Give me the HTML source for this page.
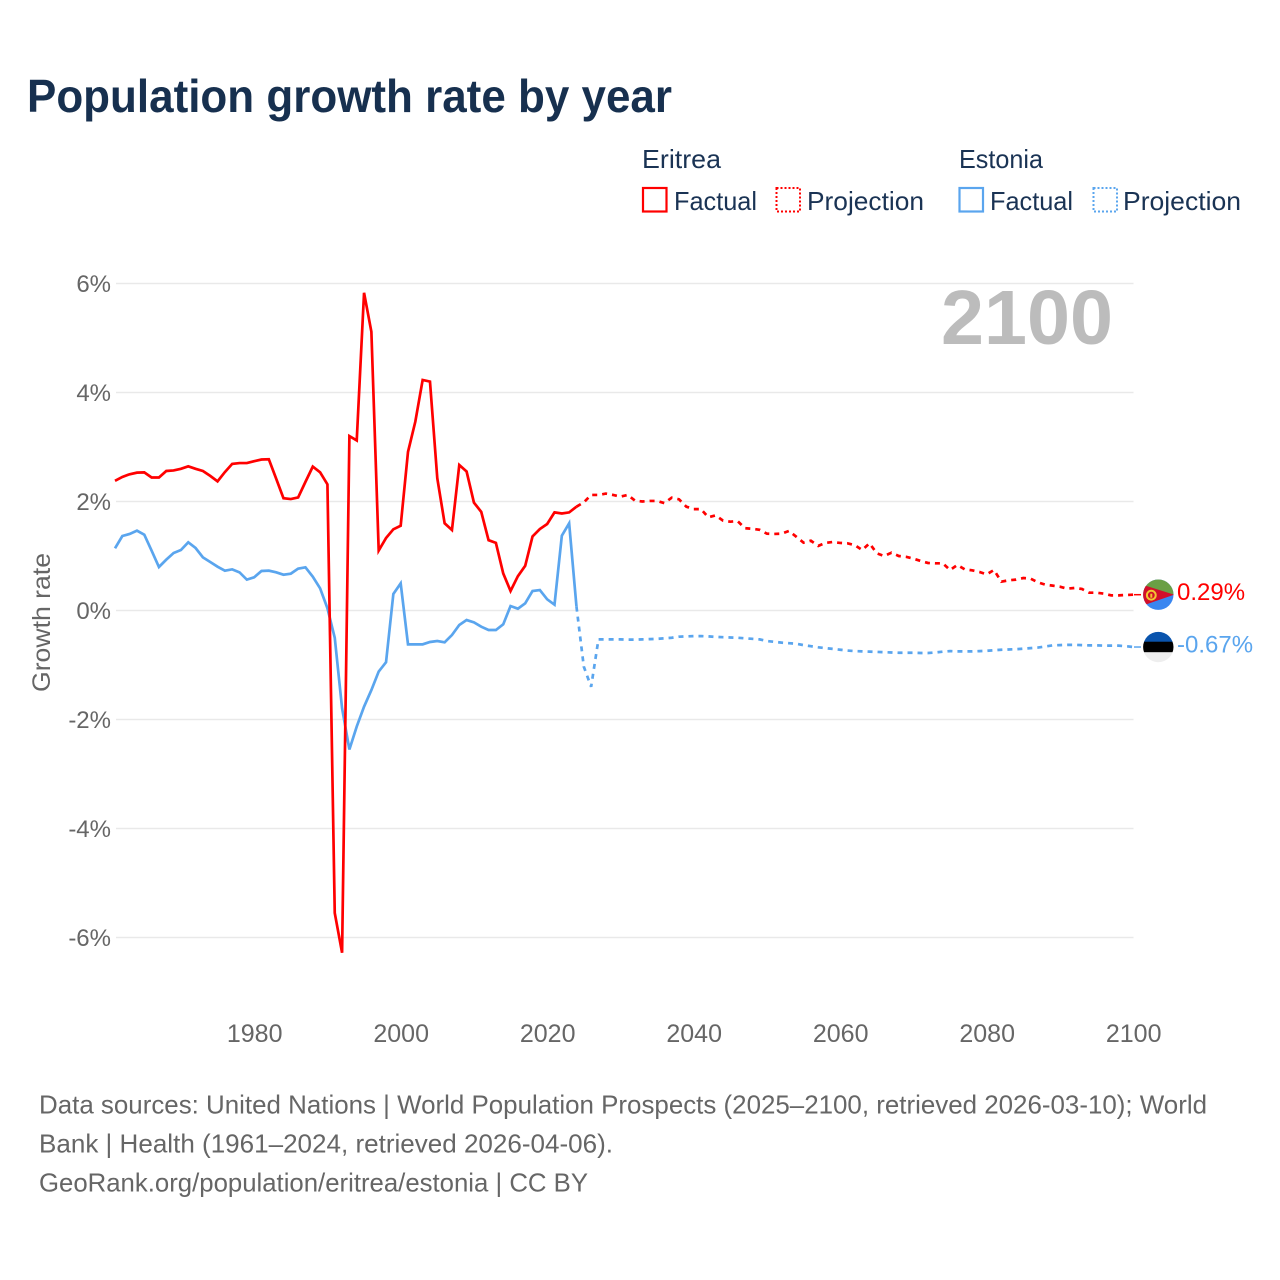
<!DOCTYPE html>
<html lang="en">
<head>
<meta charset="utf-8">
<title>Population growth rate by year</title>
<style>
html,body{margin:0;padding:0;background:#fff;}
svg{display:block;}
text{font-family:"Liberation Sans",sans-serif;}
</style>
</head>
<body>
<svg id="chart" xmlns="http://www.w3.org/2000/svg" width="1280" height="1280" viewBox="0 0 1280 1280">
  <rect x="0" y="0" width="1280" height="1280" fill="#ffffff"/>
  <text x="27" y="112" font-size="46" font-weight="700" fill="#17304f" textLength="645" lengthAdjust="spacingAndGlyphs">Population growth rate by year</text>

  <g font-size="26" fill="#1a3354">
    <text x="642" y="168" textLength="79" lengthAdjust="spacingAndGlyphs">Eritrea</text>
    <text x="959" y="168" textLength="84" lengthAdjust="spacingAndGlyphs">Estonia</text>
    <rect x="643" y="188" width="23.5" height="23.5" fill="none" stroke="#ff0000" stroke-width="2.2"/>
    <text x="674" y="210" textLength="83" lengthAdjust="spacingAndGlyphs">Factual</text>
    <rect x="776.5" y="188" width="23.5" height="23.5" fill="none" stroke="#ff0000" stroke-width="2" stroke-dasharray="2 2"/>
    <text x="807" y="210" textLength="117" lengthAdjust="spacingAndGlyphs">Projection</text>
    <rect x="959.5" y="188" width="23.5" height="23.5" fill="none" stroke="#5aa5ee" stroke-width="2.2"/>
    <text x="990" y="210" textLength="83" lengthAdjust="spacingAndGlyphs">Factual</text>
    <rect x="1093.5" y="188" width="23.5" height="23.5" fill="none" stroke="#5aa5ee" stroke-width="2" stroke-dasharray="2 2"/>
    <text x="1123" y="210" textLength="118" lengthAdjust="spacingAndGlyphs">Projection</text>
  </g>

  <g id="grid"></g>
  <g id="yticks"></g>
  <g id="xticks"></g>
  <text transform="translate(50,622.5) rotate(-90)" text-anchor="middle" font-size="25" fill="#666666" textLength="139" lengthAdjust="spacingAndGlyphs">Growth rate</text>
  <text x="941" y="344" font-size="77" font-weight="700" fill="#bcbcbc" textLength="172" lengthAdjust="spacingAndGlyphs">2100</text>
  <g id="series"></g>

  <defs>
    <clipPath id="flag-clip-eritrea"><circle id="clip-eritrea" r="15.2"/></clipPath>
    <clipPath id="flag-clip-estonia"><circle id="clip-estonia" r="15.2"/></clipPath>
  </defs>
  <g id="flag-eritrea" clip-path="url(#flag-clip-eritrea)">
    <rect x="-16" y="-16" width="32" height="32" fill="#3a86f0"/>
    <polygon points="-16,-16 16,-16 16,0 -16,-3" fill="#6a9f45"/>
    <polygon points="-16,-10 16,0 -16,11" fill="#d20f2a"/>
    <circle cx="-7" cy="0.5" r="4.4" fill="none" stroke="#f2c531" stroke-width="2"/>
    <rect x="-8" y="-1" width="2" height="4" fill="#f2c531"/>
  </g>
  <g id="flag-estonia" clip-path="url(#flag-clip-estonia)">
    <rect x="-16" y="-16" width="32" height="11" fill="#0a54ad"/>
    <rect x="-16" y="-5.3" width="32" height="10.6" fill="#000000"/>
    <rect x="-16" y="5.3" width="32" height="11" fill="#eeeeee"/>
  </g>
  <text id="label-eritrea" x="1177" font-size="24" fill="#ff0000"></text>
  <text id="label-estonia" x="1177" font-size="24" fill="#5aa5ee"></text>

  <g font-size="26" fill="#666666">
    <text x="39" y="1113.5" textLength="1168" lengthAdjust="spacingAndGlyphs">Data sources: United Nations | World Population Prospects (2025–2100, retrieved 2026-03-10); World</text>
    <text x="39" y="1152.5" textLength="574" lengthAdjust="spacingAndGlyphs">Bank | Health (1961–2024, retrieved 2026-04-06).</text>
    <text x="39" y="1191.5" textLength="549" lengthAdjust="spacingAndGlyphs">GeoRank.org/population/eritrea/estonia | CC BY</text>
  </g>
</svg>
<script>
const firstYear = 1961;
const lastFactualYear = 2024;
const yTickValues = [6, 4, 2, 0, -2, -4, -6];
const xTickYears = [1980, 2000, 2020, 2040, 2060, 2080, 2100];
const eritreaGrowth = [
  2.38,2.45,2.50,2.53,2.535,2.44,2.44,2.56,2.57,2.60,
  2.645,2.60,2.56,2.47,2.37,2.54,2.69,2.705,2.705,2.74,
  2.77,2.775,2.42,2.06,2.045,2.075,2.36,2.64,2.535,2.315,
  -5.55,-6.28,3.20,3.12,5.83,5.115,1.10,1.33,1.49,1.556,
  2.91,3.465,4.23,4.20,2.425,1.60,1.477,2.67,2.55,1.98,
  1.81,1.29,1.24,0.68,0.358,0.63,0.82,1.36,1.495,1.587,
  1.80,1.78,1.80,1.905,
  1.985,2.12,2.12,2.145,2.12,2.09,2.12,2.015,2.0,2.01,
  2.01,1.97,2.07,2.04,1.905,1.86,1.86,1.71,1.745,1.65,
  1.63,1.64,1.51,1.50,1.48,1.41,1.405,1.41,1.46,1.355,
  1.245,1.28,1.185,1.24,1.257,1.24,1.233,1.20,1.11,1.233,
  1.05,1.00,1.06,1.00,0.985,0.951,0.908,0.872,0.866,0.866,
  0.743,0.835,0.755,0.737,0.707,0.664,0.743,0.529,0.554,0.566,
  0.596,0.584,0.517,0.474,0.456,0.437,0.401,0.413,0.395,0.327,
  0.327,0.309,0.278,0.278,0.284,0.29
];
const estoniaGrowth = [
  1.141,1.367,1.404,1.465,1.391,1.098,0.798,0.933,1.055,1.11,
  1.251,1.147,0.975,0.89,0.804,0.731,0.755,0.70,0.566,0.609,
  0.725,0.731,0.70,0.657,0.676,0.768,0.792,0.621,0.407,0.04,
  -0.50,-1.795,-2.55,-2.13,-1.765,-1.46,-1.12,-0.95,0.303,0.498,
  -0.621,-0.621,-0.621,-0.578,-0.56,-0.584,-0.45,-0.266,-0.175,-0.218,
  -0.297,-0.358,-0.358,-0.254,0.082,0.033,0.131,0.358,0.376,0.205,
  0.107,1.373,1.599,0.07,
  -1.03,-1.40,-0.53,-0.53,-0.53,-0.53,-0.535,-0.535,-0.53,-0.525,
  -0.52,-0.51,-0.50,-0.48,-0.475,-0.47,-0.47,-0.475,-0.485,-0.49,
  -0.495,-0.50,-0.51,-0.52,-0.53,-0.56,-0.575,-0.59,-0.60,-0.61,
  -0.635,-0.655,-0.675,-0.69,-0.705,-0.72,-0.735,-0.745,-0.75,-0.755,
  -0.76,-0.765,-0.77,-0.775,-0.775,-0.775,-0.78,-0.78,-0.77,-0.755,
  -0.745,-0.75,-0.75,-0.75,-0.745,-0.74,-0.73,-0.72,-0.715,-0.71,
  -0.70,-0.69,-0.68,-0.66,-0.64,-0.635,-0.63,-0.63,-0.635,-0.64,
  -0.64,-0.645,-0.645,-0.645,-0.655,-0.67
];

const NS = 'http://www.w3.org/2000/svg';
const xScale = function (year) { return 115 + (year - firstYear) * 7.325; };
const tickX = function (year) { return xScale(year) + 0.5; };
const yScale = function (value) { return 610.5 - value * 54.5; };
const plotRight = 1133.5;

const gridGroup = document.getElementById('grid');
const yTickGroup = document.getElementById('yticks');
yTickValues.forEach(function (v) {
  const line = document.createElementNS(NS, 'line');
  
  
  line.setAttribute('x1', 116);
  line.setAttribute('x2', plotRight);
  line.setAttribute('y1', yScale(v));
  line.setAttribute('y2', yScale(v));
  line.setAttribute('stroke', '#e9e9e9');
  line.setAttribute('stroke-width', '1.5');
  gridGroup.appendChild(line);
  const label = document.createElementNS(NS, 'text');
  
  
  label.setAttribute('x', 111);
  label.setAttribute('y', yScale(v) + 8.5);
  label.setAttribute('text-anchor', 'end');
  label.setAttribute('font-size', '24');
  label.setAttribute('fill', '#666666');
  label.textContent = v + '%';
  yTickGroup.appendChild(label);
});

const xTickGroup = document.getElementById('xticks');
xTickYears.forEach(function (year) {
  const label = document.createElementNS(NS, 'text');
  
  
  label.setAttribute('x', tickX(year));
  label.setAttribute('y', 1042);
  label.setAttribute('text-anchor', 'middle');
  label.setAttribute('font-size', '25');
  label.setAttribute('fill', '#666666');
  label.textContent = String(year);
  xTickGroup.appendChild(label);
});

const seriesGroup = document.getElementById('series');
function toPoints(values, fromYear, toYear) {
  const pts = [];
  values.forEach(function (v, i) {
    const year = firstYear + i;
    if (year >= fromYear && year <= toYear) {
      pts.push(xScale(year).toFixed(2) + ',' + yScale(v).toFixed(2));
    }
  });
  return pts.join(' ');
}
function addLine(points, colour, dashed) {
  const line = document.createElementNS(NS, 'polyline');
  
  
  line.setAttribute('points', points);
  line.setAttribute('fill', 'none');
  line.setAttribute('stroke', colour);
  line.setAttribute('stroke-width', '2.7');
  line.setAttribute('stroke-linejoin', 'miter');
  if (dashed) { line.setAttribute('stroke-dasharray', '5 5'); }
  seriesGroup.appendChild(line);
}
addLine(toPoints(estoniaGrowth, firstYear, lastFactualYear), '#5aa5ee', false);
addLine(toPoints(estoniaGrowth, lastFactualYear, 2100), '#5aa5ee', true);
addLine(toPoints(eritreaGrowth, firstYear, lastFactualYear), '#ff0000', false);
addLine(toPoints(eritreaGrowth, lastFactualYear, 2100), '#ff0000', true);

function placeEnd(values, colour, flagId, clipId, labelId) {
  const last = values[values.length - 1];
  const y = yScale(last);
  const connector = document.createElementNS(NS, 'line');
  
  
  connector.setAttribute('x1', 1134);
  connector.setAttribute('x2', 1141);
  connector.setAttribute('y1', y);
  connector.setAttribute('y2', y);
  connector.setAttribute('stroke', colour);
  connector.setAttribute('stroke-width', '1.5');
  seriesGroup.appendChild(connector);
  document.getElementById(flagId).setAttribute('transform', 'translate(1158.3,' + y + ')');
  const label = document.getElementById(labelId);
  label.setAttribute('y', y + 5.5);
  label.textContent = last.toFixed(2) + '%';
}
placeEnd(eritreaGrowth, '#ff0000', 'flag-eritrea', 'clip-eritrea', 'label-eritrea');
placeEnd(estoniaGrowth, '#5aa5ee', 'flag-estonia', 'clip-estonia', 'label-estonia');
</script>
</body>
</html>
